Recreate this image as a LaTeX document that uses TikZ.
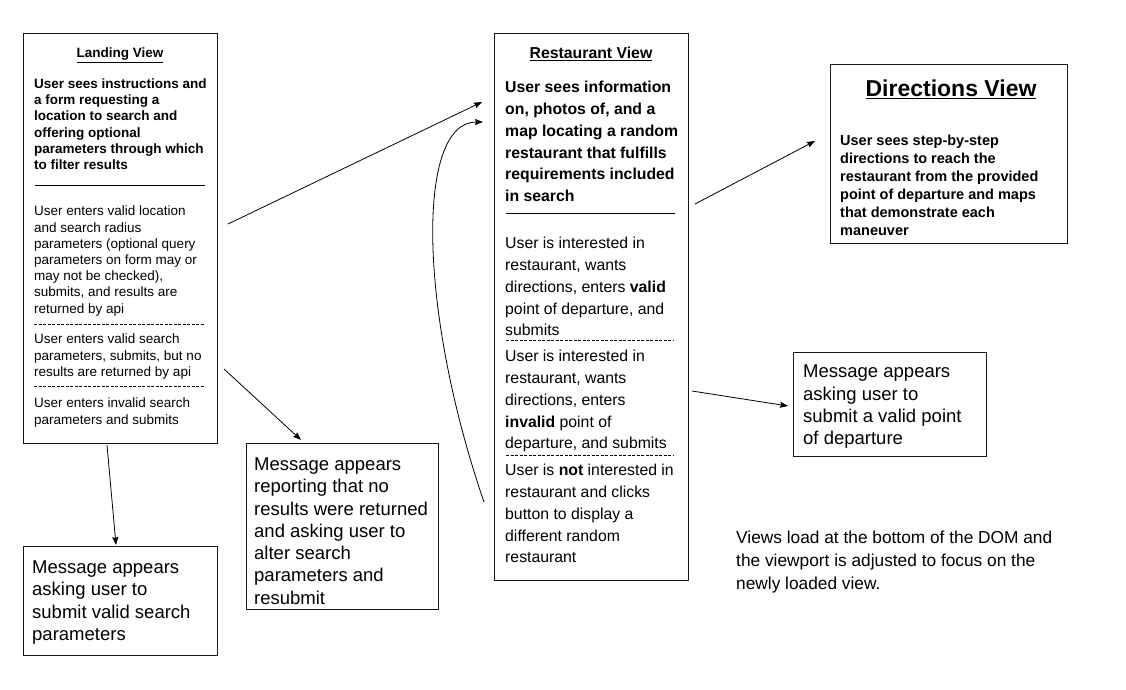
\documentclass[tikz,border=0pt]{standalone}
\usepackage{fontspec}
\setmainfont{Liberation Sans}
\usetikzlibrary{arrows.meta}
\begin{document}
\begin{tikzpicture}[x=1pt,y=-1pt,
  box/.style={draw=black!90, line width=1.4pt, inner sep=0pt, anchor=north west, fill=none},
  txt/.style={anchor=north west, inner sep=0pt, align=left},
  ttl/.style={anchor=base, inner sep=0pt, font=\bfseries\fontsize{13.5}{16}\selectfont},
  lsmall/.style={txt, font=\fontsize{13.5}{16.2}\selectfont},
  lbold/.style={txt, font=\bfseries\fontsize{13.5}{16.2}\selectfont},
  rnorm/.style={txt, font=\fontsize{15.8}{21.8}\selectfont},
  rbold/.style={txt, font=\bfseries\fontsize{15.8}{21.8}\selectfont},
  msg/.style={txt, font=\fontsize{18.5}{22.3}\selectfont},
  sep/.style={line width=1pt},
  dsep/.style={line width=0.8pt, dash pattern=on 3.2pt off 1.3pt},
  arr/.style={-{Stealth[length=8pt,width=6pt,inset=1pt]}, line width=0.8pt}
]
\useasboundingbox (0,0) rectangle (1126,690);

% ---------- Landing View ----------
\node[box, minimum width=194pt, minimum height=410pt] (landing) at (23,33) {};
\node[ttl] (landingT) at (120,57.5) {\underline{Landing View}};
\node[lbold] (landingB) at (34,78.5) {User sees instructions and\\a form requesting a\\location to search and\\offering optional\\parameters through which\\to filter results};
\draw[sep] (35,185) -- (205,185);
\node[lsmall] (landing1) at (34,206) {User enters valid location\\and search radius\\parameters (optional query\\parameters on form may or\\may not be checked),\\submits, and results are\\returned by api};
\draw[dsep] (34,324) -- (205,324);
\node[lsmall] (landing2) at (34,334) {User enters valid search\\parameters, submits, but no\\results are returned by api};
\draw[dsep] (34,386) -- (205,386);
\node[lsmall] (landing3) at (34,398) {User enters invalid search\\parameters and submits};

% ---------- Message boxes (left) ----------
\node[box, minimum width=194pt, minimum height=109pt] (msgSearch) at (23,546) {};
\node[msg] (msgSearchT) at (32,560.5) {Message appears\\asking user to\\submit valid search\\parameters};

\node[box, minimum width=192pt, minimum height=166pt] (msgNoRes) at (246,443) {};
\node[msg] (msgNoResT) at (254,457.5) {Message appears\\reporting that no\\results were returned\\and asking user to\\alter search\\parameters and\\resubmit};

% ---------- Restaurant View ----------
\node[box, minimum width=194pt, minimum height=547pt] (restaurant) at (494,33) {};
\node[ttl, font=\bfseries\fontsize{15.8}{18}\selectfont] (restaurantT) at (591,58.5) {\underline{Restaurant View}};
\node[rbold] (restaurantB) at (505,81) {User sees information\\on, photos of, and a\\map locating a random\\restaurant that fulfills\\requirements included\\in search};
\draw[sep] (506,213) -- (675,213);
\node[rnorm] (rest1) at (505,237) {User is interested in\\restaurant, wants\\directions, enters \textbf{valid}\\point of departure, and\\submits};
\draw[dsep] (506,340) -- (673,340);
\node[rnorm] (rest2) at (505,350) {User is interested in\\restaurant, wants\\directions, enters\\\textbf{invalid} point of\\departure, and submits};
\draw[dsep] (506,455) -- (673,455);
\node[rnorm] (rest3) at (505,464) {User is \textbf{not} interested in\\restaurant and clicks\\button to display a\\different random\\restaurant};

% ---------- Directions View ----------
\node[box, minimum width=237pt, minimum height=179pt] (directions) at (830,64) {};
\node[ttl, font=\bfseries\fontsize{23}{26}\selectfont] (directionsT) at (951,96.5) {\underline{Directions View}};
\node[txt, font=\bfseries\fontsize{14.5}{18}\selectfont] (directionsB) at (840,134.5) {User sees step-by-step\\directions to reach the\\restaurant from the provided\\point of departure and maps\\that demonstrate each\\maneuver};

% ---------- Invalid departure message ----------
\node[box, minimum width=193pt, minimum height=104pt] (msgDepart) at (793,352) {};
\node[msg] (msgDepartT) at (803,365) {Message appears\\asking user to\\submit a valid point\\of departure};

% ---------- Note ----------
\node[txt, font=\fontsize{17.3}{23}\selectfont] (note) at (736,531) {Views load at the bottom of the DOM and\\the viewport is adjusted to focus on the\\newly loaded view.};

% ---------- Connectors ----------
\coordinate (a1s) at (228,224);  \coordinate (a1e) at (482,102);
\coordinate (a2s) at (224,369);  \coordinate (a2e) at (301,440);
\coordinate (a3s) at (107,445);  \coordinate (a3e) at (116,545);
\coordinate (a4s) at (484,502);  \coordinate (a4e) at (483,122);
\coordinate (a5s) at (695,204);  \coordinate (a5e) at (815,141);
\coordinate (a6s) at (692,391);  \coordinate (a6e) at (788,406);

\draw[arr] (a1s) -- (a1e);
\draw[arr] (a2s) -- (a2e);
\draw[arr] (a3s) -- (a3e);
\draw[arr] (a4s) .. controls (418,310) and (416,122) .. (a4e);
\draw[arr] (a5s) -- (a5e);
\draw[arr] (a6s) -- (a6e);
\end{tikzpicture}
\end{document}
